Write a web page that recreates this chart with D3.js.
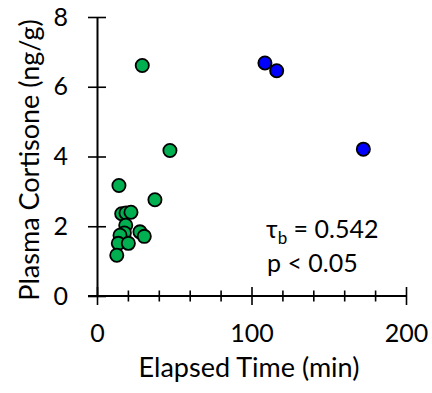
<!DOCTYPE html>
<html>
<head>
<meta charset="utf-8">
<script src="https://cdn.jsdelivr.net/npm/d3@7"></script>
<style>
  html, body { margin: 0; padding: 0; background: #fff; }
  svg { display: block; }
  text { font-family: Lato, "Open Sans", sans-serif; fill: #000; }
</style>
</head>
<body>
<svg id="chart" width="432" height="393"></svg>
<script>
// Elapsed time (min) and plasma cortisone (ng/g) per animal
const greenTime      = [29.3, 47.2, 14.2, 37.5, 16.0, 18.8, 22.0, 18.6, 27.8, 30.6, 17.7, 14.9, 13.8, 20.3, 12.8];
const greenCortisone = [6.61, 4.17, 3.17, 2.76, 2.36, 2.38, 2.40, 2.03, 1.84, 1.71, 1.81, 1.74, 1.51, 1.51, 1.17];
const blueTime       = [108.7, 116.3, 172.4];
const blueCortisone  = [6.68, 6.46, 4.21];

const xMajorTicks = [0, 100, 200];
const xMinorTicks = [20, 40, 60, 80, 120, 140, 160, 180];
const yTicks = [0, 2, 4, 6, 8];

const xTitle = "Elapsed Time (min)";
const yTitle = "Plasma Cortisone (ng/g)";
const statTau = "0.542";
const statP = "p < 0.05";

const svg = d3.select("#chart");
const x = d3.scaleLinear().domain([0, 200]).range([97, 406]);
const y = d3.scaleLinear().domain([0, 8]).range([296, 17]);
const tickFont = 25;
const titleFont = 27;
const noteFont = 25;

function styleAxis(g) {
  g.select(".domain").attr("stroke", "#000").attr("stroke-width", 2);
  g.selectAll(".tick line").attr("stroke", "#000").attr("stroke-width", 1.6);
  g.selectAll(".tick text").attr("font-size", tickFont).attr("font-family", "Lato, sans-serif").attr("fill", "#000");
}

// x axis: major and minor ticks cross the axis line
const xAxisY = y(0);
svg.append("g").attr("transform", `translate(0,${xAxisY})`)
  .call(d3.axisTop(x).tickValues(xMinorTicks).tickSize(5.5).tickFormat("").tickSizeOuter(0))
  .call(styleAxis).select(".domain").remove();
svg.append("g").attr("transform", `translate(0,${xAxisY})`)
  .call(d3.axisBottom(x).tickValues(xMinorTicks).tickSize(5.5).tickFormat("").tickSizeOuter(0))
  .call(styleAxis).select(".domain").remove();
svg.append("g").attr("transform", `translate(0,${xAxisY})`)
  .call(d3.axisTop(x).tickValues(xMajorTicks).tickSize(9).tickFormat("").tickSizeOuter(0))
  .call(styleAxis).select(".domain").remove();
const xAxis = svg.append("g").attr("transform", `translate(0,${xAxisY})`)
  .call(d3.axisBottom(x).tickValues(xMajorTicks).tickSize(9).tickPadding(19).tickSizeOuter(0))
  .call(styleAxis);
xAxis.select(".domain").attr("d", `M${x(0) - 9},0H${x(200)}`);

// y axis: major ticks cross the axis line
const yAxisX = x(0);
svg.append("g").attr("transform", `translate(${yAxisX},0)`)
  .call(d3.axisRight(y).tickValues(yTicks).tickSize(9).tickFormat("").tickSizeOuter(0))
  .call(styleAxis).select(".domain").remove();
svg.append("g").attr("transform", `translate(${yAxisX},0)`)
  .call(d3.axisLeft(y).tickValues(yTicks).tickSize(9).tickPadding(20).tickSizeOuter(0))
  .call(styleAxis);

// axis titles
svg.append("text")
  .attr("x", 249).attr("y", 377)
  .attr("text-anchor", "middle")
  .attr("font-size", titleFont)
  .text(xTitle);
svg.append("text")
  .attr("transform", `translate(39,160) rotate(-90)`)
  .attr("text-anchor", "middle")
  .attr("font-size", titleFont)
  .text(yTitle);

// points
function drawPoints(times, values, fill) {
  svg.append("g").selectAll("circle")
    .data(d3.range(times.length))
    .join("circle")
    .attr("cx", i => x(times[i]))
    .attr("cy", i => y(values[i]))
    .attr("r", 6.6)
    .attr("fill", fill)
    .attr("stroke", "#000")
    .attr("stroke-width", 1.8);
}
drawPoints(greenTime, greenCortisone, "#00b050");
drawPoints(blueTime, blueCortisone, "#0000ff");

// Kendall tau-b annotation
const tau = svg.append("text").attr("x", 266).attr("y", 238).attr("font-size", noteFont);
tau.append("tspan").text("τ");
tau.append("tspan").attr("font-size", 17).attr("dy", 6).text("b");
tau.append("tspan").attr("dy", -6).text(" = " + statTau);
svg.append("text").attr("x", 267).attr("y", 272).attr("font-size", noteFont).text(statP);
</script>
</body>
</html>
